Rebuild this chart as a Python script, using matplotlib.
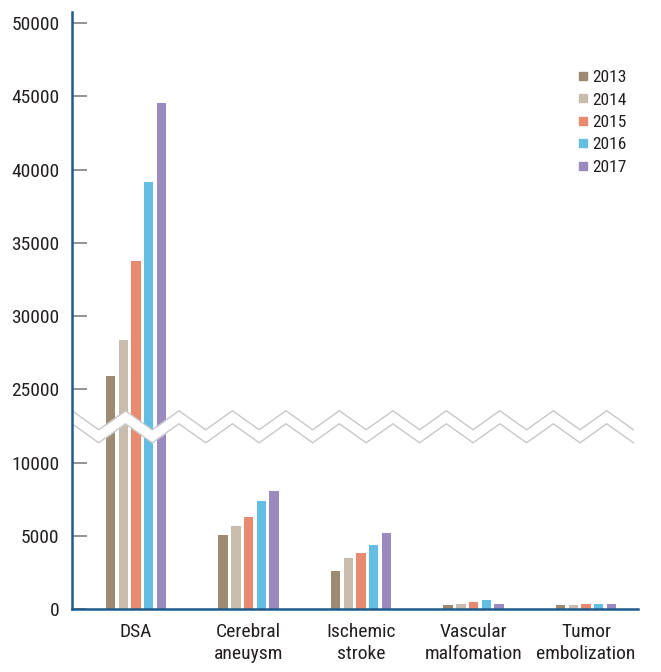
import numpy as np
import matplotlib
matplotlib.use("Agg")
import matplotlib.pyplot as plt
from matplotlib.lines import Line2D
from matplotlib import font_manager

# Data
CATEGORIES = ["DSA", "Cerebral\naneuysm", "Ischemic\nstroke", "Vascular\nmalfomation", "Tumor\nembolization"]
YEARS = ["2013", "2014", "2015", "2016", "2017"]
VALUES = {
    "2013": [25900, 5060, 2620, 270, 270],
    "2014": [28350, 5680, 3470, 360, 250],
    "2015": [33750, 6270, 3810, 460, 360],
    "2016": [39150, 7370, 4380, 590, 360],
    "2017": [44550, 8070, 5180, 360, 360],
}
COLORS = ["#9c8a73", "#c8bcac", "#e88a70", "#64bee4", "#9b8abe"]

# broken axis: 10000 -> 25000 squeezed into one 5000 step
BREAK_LOW = 10000
BREAK_HIGH = 25000
BREAK_SHIFT = BREAK_HIGH - BREAK_LOW - 5000
YTICKS = [0, 5000, 10000, 25000, 30000, 35000, 40000, 45000, 50000]


def to_axis(v):
    v = np.asarray(v, dtype=float)
    return np.where(v > BREAK_LOW, v - BREAK_SHIFT, v)


names = {f.name for f in font_manager.fontManager.ttflist}
FONT = "DejaVu Sans"
for cand in ["Roboto Condensed", "Archivo Narrow", "PT Sans Narrow"]:
    if cand in names:
        FONT = cand
        break
plt.rcParams["font.family"] = [FONT, "DejaVu Sans"]
TEXT_COLOR = "#231f20"
AXIS_COLOR = "#1f5b8c"

fig = plt.figure(figsize=(6.61, 6.72), dpi=100)
ax = fig.add_axes([72 / 661, 63 / 672, 566 / 661, 597 / 672])

x = np.arange(len(CATEGORIES))
width = 0.084
step = 0.113
for i, (year, color) in enumerate(zip(YEARS, COLORS)):
    ax.bar(x + (i - 2) * step, to_axis(VALUES[year]), width=width, color=color,
           label=year, zorder=2)

ax.set_xlim(-0.569, 4.462)
ax.set_ylim(0, 40770)

# zigzag break band
x0, x1 = -0.569, -0.569 + 561.5 / 112.5
n_seg = 21
zx = np.linspace(x0, x1, n_seg + 1)
peak = BREAK_LOW + 3540
trough = BREAK_LOW + 2240
zy = np.where(np.arange(n_seg + 1) % 2 == 0, peak, trough)
off = 890
ax.fill_between(zx, zy - off, zy, color="white", zorder=3, lw=0)
ax.plot(zx, zy, color="#c8c8c8", lw=1.0, zorder=4)
ax.plot(zx, zy - off, color="#c8c8c8", lw=1.0, zorder=4)

ax.set_yticks(to_axis(YTICKS))
ax.set_yticklabels([str(t) for t in YTICKS], fontsize=14, color=TEXT_COLOR)
ax.set_xticks(x)
ax.set_xticklabels(CATEGORIES, fontsize=14, color=TEXT_COLOR, linespacing=1.3)
ax.tick_params(axis="y", direction="in", length=11, width=1.3, color="#8a8a8a", pad=9)
ax.tick_params(axis="x", length=0, pad=10)

for side in ["top", "right"]:
    ax.spines[side].set_visible(False)
for side in ["left", "bottom"]:
    ax.spines[side].set_color(AXIS_COLOR)
    ax.spines[side].set_linewidth(1.8)
    ax.spines[side].set_zorder(5)

handles = [Line2D([], [], marker="s", linestyle="none", markersize=5.5,
                  markerfacecolor=c, markeredgecolor=c) for c in COLORS]
ax.legend(handles, YEARS, loc="upper left", bbox_to_anchor=(571 / 661, 1 - 63 / 672),
          bbox_transform=fig.transFigure, frameon=False, handlelength=0.6,
          handletextpad=0.25, labelspacing=0.42, borderaxespad=0,
          prop=dict(size=12.5), labelcolor=TEXT_COLOR)

fig.savefig("out.png", dpi=100)
